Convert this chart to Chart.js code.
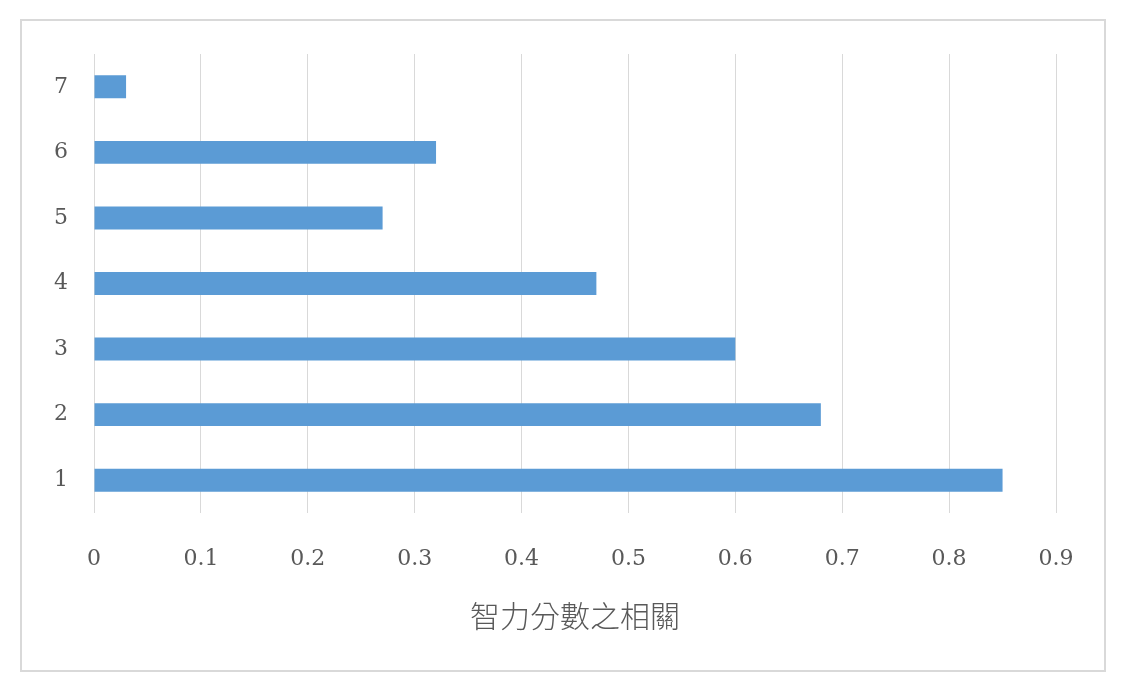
<!DOCTYPE html>
<html>
<head>
<meta charset="utf-8">
<script src="https://cdn.jsdelivr.net/npm/chart.js@4"></script>
<style>
  html, body { margin: 0; padding: 0; background: #ffffff; }
  #wrap { width: 1126px; height: 693px; }
</style>
</head>
<body>
<div id="wrap"><canvas id="c" width="1126" height="693"></canvas></div>
<script>
const categories = ['1', '2', '3', '4', '5', '6', '7'];
const values = [0.85, 0.68, 0.60, 0.47, 0.27, 0.32, 0.03];
const xTicks = [0, 0.1, 0.2, 0.3, 0.4, 0.5, 0.6, 0.7, 0.8, 0.9];
const axisTitle = '智力分數之相關';

const framePlugin = {
  id: 'frame',
  beforeDraw(chart) {
    const ctx = chart.ctx;
    ctx.save();
    ctx.fillStyle = '#ffffff';
    ctx.fillRect(0, 0, chart.width, chart.height);
    ctx.strokeStyle = '#d9d9d9';
    ctx.lineWidth = 2;
    ctx.strokeRect(21, 20, 1084, 651);
    ctx.restore();
  }
};

new Chart(document.getElementById('c'), {
  type: 'bar',
  data: {
    labels: categories,
    datasets: [{
      data: values,
      backgroundColor: '#5b9bd5',
      borderWidth: 0,
      barPercentage: 0.35,
      categoryPercentage: 1.0
    }]
  },
  plugins: [framePlugin],
  options: {
    indexAxis: 'y',
    responsive: false,
    animation: false,
    devicePixelRatio: 1,
    layout: { padding: { top: 54, right: 70, left: 0, bottom: 0 } },
    plugins: {
      legend: { display: false },
      tooltip: { enabled: false }
    },
    scales: {
      x: {
        type: 'linear',
        min: 0,
        max: 0.9,
        afterBuildTicks(scale) {
          scale.ticks = xTicks.map(v => ({ value: v }));
        },
        afterFit(scale) { scale.height = 180; },
        grid: { color: '#d9d9d9', lineWidth: 1, drawTicks: false },
        border: { display: false },
        ticks: {
          padding: 33,
          color: '#595959',
          font: { family: 'DejaVu Serif', size: 22 },
          callback: (v) => String(Math.round(v * 10) / 10)
        },
        title: {
          display: true,
          text: axisTitle,
          color: '#595959',
          font: { family: '"Noto Sans CJK TC"', size: 30, weight: 300 },
          padding: { top: 0, bottom: 59 }
        }
      },
      y: {
        type: 'category',
        reverse: true,
        afterFit(scale) { scale.width = 94; },
        grid: { display: false, drawTicks: false },
        border: { display: false },
        ticks: {
          padding: 26,
          color: '#595959',
          font: { family: 'DejaVu Serif', size: 22 }
        }
      }
    }
  }
});
</script>
</body>
</html>
